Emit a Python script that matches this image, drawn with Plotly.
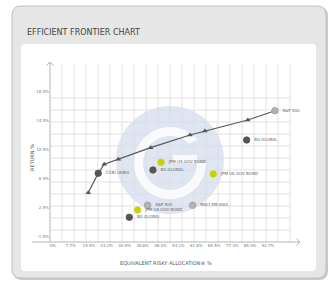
import plotly.graph_objects as go
import numpy as np

# ---------------- data ----------------
x_tick_vals = [0, 7.7, 15.5, 23.2, 30.9, 38.6, 46.4, 54.1, 61.8, 69.5, 77.3, 85.0, 92.7]
x_tick_text = ["0%", "7.7%", "15.5%", "23.2%", "30.9%", "38.6%", "46.4%", "54.1%",
               "61.8%", "69.5%", "77.3%", "85.0%", "92.7%"]
y_tick_vals = [-1.5, 2.5, 6.5, 10.5, 14.5, 18.5]
y_tick_text = ["-1.5%", "2.5%", "6.5%", "10.5%", "14.5%", "18.5%"]

frontier_x = [15.2, 19.5, 22.1, 28.2, 42.1, 59.1, 65.5, 84.0, 95.7]
frontier_y = [4.61, 7.29, 8.53, 9.22, 10.82, 12.57, 13.12, 14.64, 15.92]
frontier_kind = ["tri", "dark", "tri", "tri", "tri", "tri", "tri", "tri", "light"]
frontier_labels = ["", "CGBI USBIG", "", "", "", "", "", "", "S&P 500"]

asset_names = ["BG GLOBAL", "JPM US GOV BOND", "JPM US GOV BOND", "BG GLOBAL",
               "S&P 500", "MSCI EM ASIA", "JPM US GOV BOND", "BG GLOBAL"]
asset_x = [83.5, 69.1, 46.6, 43.1, 40.8, 60.2, 36.5, 32.9]
asset_y = [11.88, 7.19, 8.80, 7.74, 2.87, 2.87, 2.22, 1.22]
asset_kind = ["dark", "yellow", "yellow", "dark", "light", "light", "yellow", "dark"]

# ---------------- styling ----------------
W, H = 332, 282
PL, PR, PT, PB = 50, 300, 62, 242   # plot area in px
XR = [-1.29, 106.5]
YR = [-2.19, 22.64]
FONT = "DejaVu Sans"
kind_color = {"dark": "#555555", "yellow": "#c6d300", "light": "#b4b4b4", "tri": "#555555"}
kind_line = {"dark": "#555555", "yellow": "#c6d300", "light": "#9a9a9a", "tri": "#555555"}


def px(xp):
    return (xp - PL) / (PR - PL)


def py(yp):
    return (PB - yp) / (PB - PT)


def rrect(x0, y0, x1, y1, r):
    p = lambda a, b: f"{px(a):.5f},{py(b):.5f}"
    return (f"M {p(x0 + r, y0)} L {p(x1 - r, y0)} Q {p(x1, y0)} {p(x1, y0 + r)} "
            f"L {p(x1, y1 - r)} Q {p(x1, y1)} {p(x1 - r, y1)} L {p(x0 + r, y1)} "
            f"Q {p(x0, y1)} {p(x0, y1 - r)} L {p(x0, y0 + r)} Q {p(x0, y0)} {p(x0 + r, y0)} Z")


shapes = []
# shadow + outer panel
shapes.append(dict(type="path", xref="paper", yref="paper", layer="below",
                   path=rrect(13, 7, 328, 280, 9), fillcolor="#c9c9c9", line=dict(width=0)))
shapes.append(dict(type="path", xref="paper", yref="paper", layer="below",
                   path=rrect(12, 6, 326, 278, 9), fillcolor="#e6e6e6",
                   line=dict(color="#c2c2c2", width=1)))
# white panel
shapes.append(dict(type="path", xref="paper", yref="paper", layer="below",
                   path=rrect(21, 44, 316, 271, 4), fillcolor="#ffffff", line=dict(width=0)))
# grid
for gx in range(62, 291, 12):
    shapes.append(dict(type="line", xref="paper", yref="paper", layer="below",
                       x0=px(gx), x1=px(gx), y0=py(64), y1=py(242),
                       line=dict(color="#e2e2e2", width=1)))
for gy in range(98, 231, 12):
    shapes.append(dict(type="line", xref="paper", yref="paper", layer="below",
                       x0=px(50), x1=px(290), y0=py(gy), y1=py(gy),
                       line=dict(color="#e2e2e2", width=1)))
# watermark circle
cx, cy, r = 170, 160, 54
shapes.append(dict(type="path", xref="paper", yref="paper", layer="below",
                   path="M " + " L ".join(f"{px(cx + r*np.cos(t)):.5f},{py(cy + r*np.sin(t)):.5f}"
                                          for t in np.linspace(0, 2*np.pi, 90)) + " Z",
                   fillcolor="rgba(214,222,236,0.75)", line=dict(width=0)))
# watermark "G"
gcx, gcy, ro, ri = 170, 163, 36, 27
a0, a1 = np.deg2rad(-40), np.deg2rad(-360)
outer = [(gcx + ro*np.cos(t), gcy + ro*np.sin(t)) for t in np.linspace(a0, a1, 60)]
inner = [(gcx + ri*np.cos(t), gcy + ri*np.sin(t)) for t in np.linspace(a1, a0, 60)]
ring = outer + [(gcx + ro, gcy + 0)] + [(gcx + 3, gcy), (gcx + 3, gcy - 8), (gcx + ri, gcy - 8)] + inner[:-1]
shapes.append(dict(type="path", xref="paper", yref="paper", layer="below",
                   path="M " + " L ".join(f"{px(a):.5f},{py(b):.5f}" for a, b in ring) + " Z",
                   fillcolor="rgba(255,255,255,0.8)", line=dict(width=0)))
# axes lines and arrows
ax_col = "#b5b5b5"
shapes.append(dict(type="line", xref="paper", yref="paper", x0=px(32), x1=px(300),
                   y0=py(242), y1=py(242), line=dict(color=ax_col, width=1)))
shapes.append(dict(type="line", xref="paper", yref="paper", x0=px(50), x1=px(50),
                   y0=py(242), y1=py(62), line=dict(color=ax_col, width=1)))
shapes.append(dict(type="path", xref="paper", yref="paper",
                   path=f"M {px(46.5)},{py(65.5)} L {px(50)},{py(62)} L {px(53.5)},{py(65.5)}",
                   line=dict(color=ax_col, width=1)))
shapes.append(dict(type="path", xref="paper", yref="paper",
                   path=f"M {px(296.5)},{py(238.5)} L {px(300)},{py(242)} L {px(296.5)},{py(245.5)}",
                   line=dict(color=ax_col, width=1)))

fig = go.Figure()
# frontier line
fig.add_trace(go.Scatter(x=frontier_x, y=frontier_y, mode="lines",
                         line=dict(color="#555555", width=1.2), hoverinfo="skip", showlegend=False))
tri_idx = [i for i, k in enumerate(frontier_kind) if k == "tri"]
fig.add_trace(go.Scatter(x=[frontier_x[i] for i in tri_idx], y=[frontier_y[i] for i in tri_idx],
                         mode="markers", marker=dict(symbol="triangle-up", size=5, color="#555555"),
                         showlegend=False))
dot_idx = [i for i, k in enumerate(frontier_kind) if k != "tri"]
fig.add_trace(go.Scatter(x=[frontier_x[i] for i in dot_idx], y=[frontier_y[i] for i in dot_idx],
                         mode="markers+text", text=["  " + frontier_labels[i] for i in dot_idx],
                         textposition="middle right",
                         textfont=dict(size=4, color="#666666", family=FONT),
                         marker=dict(symbol="circle", size=6.5,
                                     color=[kind_color[frontier_kind[i]] for i in dot_idx],
                                     line=dict(width=0.8, color=[kind_line[frontier_kind[i]] for i in dot_idx])),
                         showlegend=False))
fig.add_trace(go.Scatter(x=asset_x, y=asset_y, mode="markers+text",
                         text=["  " + n for n in asset_names], textposition="middle right",
                         textfont=dict(size=4, color="#666666", family=FONT),
                         marker=dict(symbol="circle", size=6.5,
                                     color=[kind_color[k] for k in asset_kind],
                                     line=dict(width=0.8, color=[kind_line[k] for k in asset_kind])),
                         showlegend=False))

annotations = [
    dict(text="EFFICIENT FRONTIER CHART", xref="paper", yref="paper", x=px(25), y=py(33),
         xanchor="left", yanchor="middle", showarrow=False,
         font=dict(size=8, color="#444444", family=FONT)),
    dict(text="EQUIVALENT RISKY ALLOCATION® %", xref="paper", yref="paper", x=px(166), y=py(263),
         xanchor="center", yanchor="middle", showarrow=False,
         font=dict(size=5, color="#555555", family=FONT)),
    dict(text="RETURN %", xref="paper", yref="paper", x=px(32), y=py(158), textangle=-90,
         xanchor="center", yanchor="middle", showarrow=False,
         font=dict(size=5, color="#555555", family=FONT)),
]

fig.update_layout(
    width=W, height=H, autosize=False,
    margin=dict(l=PL, r=W - PR, t=PT, b=H - PB, pad=0),
    paper_bgcolor="#ffffff", plot_bgcolor="rgba(0,0,0,0)",
    shapes=shapes, annotations=annotations,
    xaxis=dict(range=XR, showgrid=False, zeroline=False, showline=False, ticks="",
               tickmode="array", tickvals=x_tick_vals, ticktext=x_tick_text,
               tickfont=dict(size=4, color="#777777", family=FONT), fixedrange=True),
    yaxis=dict(range=YR, showgrid=False, zeroline=False, showline=False, ticks="",
               tickmode="array", tickvals=y_tick_vals, ticktext=y_tick_text,
               tickfont=dict(size=4, color="#777777", family=FONT), fixedrange=True),
    font=dict(family=FONT),
)

fig.write_html("out.html", config={"displayModeBar": False},
               post_script="document.body.style.margin='0';document.body.style.overflow='hidden';")
